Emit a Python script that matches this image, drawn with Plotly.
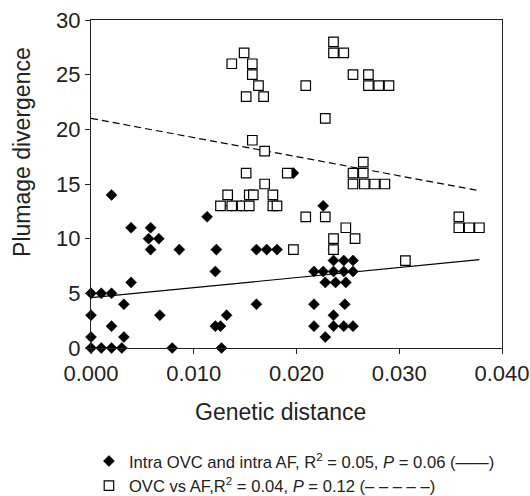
import plotly.graph_objects as go

# ---- data ----
intra_x = [0, 0, 0, 0, 0.001, 0.001, 0.002, 0.002, 0.002, 0.002, 0.003,
           0.0032, 0.0032, 0.0039, 0.0039, 0.0056, 0.0066, 0.0058, 0.0058,
           0.0067, 0.0086, 0.0079, 0.0113, 0.0122, 0.0121, 0.0121, 0.0126,
           0.0132, 0.0127, 0.0137, 0.0146,
           0.0161, 0.0171, 0.0181, 0.0161, 0.0197, 0.0226,
           0.0217, 0.0226, 0.0236, 0.0246, 0.0255,
           0.0236, 0.0246, 0.0255, 0.0236,
           0.0228, 0.0238, 0.0248,
           0.0217, 0.0247, 0.0236,
           0.0217, 0.0236, 0.0246, 0.0255, 0.0228]
intra_y = [5, 3, 1, 0, 5, 0, 5, 0, 2, 14, 0,
           4, 1, 6, 11, 10, 10, 11, 9,
           3, 9, 0, 12, 9, 7, 2, 2,
           3, 0, 13, 13,
           9, 9, 9, 4, 16, 13,
           7, 7, 7, 7, 7,
           8, 8, 8, 9,
           6, 6, 6,
           4, 4, 3,
           2, 2, 2, 2, 1]

between_x = [0.0149, 0.0137, 0.0157, 0.0157, 0.0163, 0.0151, 0.0168,
             0.0209, 0.0228, 0.0236, 0.0236, 0.0246,
             0.0255, 0.0270, 0.0270, 0.0280, 0.0290,
             0.0157, 0.0169, 0.0151, 0.0191,
             0.0265, 0.0255, 0.0265,
             0.0255, 0.0266, 0.0276, 0.0286, 0.0169,
             0.0133, 0.0154, 0.0158, 0.0177,
             0.0126, 0.0137, 0.0147, 0.0154, 0.0177, 0.0181,
             0.0209, 0.0228, 0.0248, 0.0236, 0.0257, 0.0236, 0.0197,
             0.0306, 0.0358, 0.0358, 0.0368, 0.0378]
between_y = [27, 26, 26, 25, 24, 23, 23,
             24, 21, 28, 27, 27,
             25, 25, 24, 24, 24,
             19, 18, 16, 16,
             17, 16, 16,
             15, 15, 15, 15, 15,
             14, 14, 14, 14,
             13, 13, 13, 13, 13, 13,
             12, 12, 11, 10, 10, 9, 9,
             8, 12, 11, 11, 11]

# regression lines (intercept, slope)
fit_x = [0.0, 0.0378]
intra_fit = (4.6, 92.0)
between_fit = (21.0, -175.0)

x_ticks = [0.0, 0.01, 0.02, 0.03, 0.04]
y_ticks = [0, 5, 10, 15, 20, 25, 30]

FONT = "Liberation Sans, Arial, sans-serif"

fig = go.Figure()

fig.add_trace(go.Scatter(
    x=fit_x, y=[intra_fit[0] + intra_fit[1] * v for v in fit_x],
    mode="lines", line=dict(color="black", width=1.2),
    showlegend=False, hoverinfo="skip"))
fig.add_trace(go.Scatter(
    x=fit_x, y=[between_fit[0] + between_fit[1] * v for v in fit_x],
    mode="lines", line=dict(color="black", width=1.2, dash="7px,4px"),
    showlegend=False, hoverinfo="skip"))

fig.add_trace(go.Scatter(
    x=intra_x, y=intra_y, mode="markers", cliponaxis=False,
    marker=dict(symbol="diamond", size=8.5, color="black",
                line=dict(color="black", width=0.5)),
    name="Intra OVC and intra AF, R<sup>2</sup> = 0.05, <i>P</i> = 0.06 (\u2014\u2014)",
    legendgroup="a"))
fig.add_trace(go.Scatter(
    x=between_x, y=between_y, mode="markers", cliponaxis=False,
    marker=dict(symbol="square", size=9.5, color="white",
                line=dict(color="black", width=1.2)),
    name="OVC vs AF,R<sup>2</sup> = 0.04, <i>P</i> = 0.12 (\u2013 \u2013 \u2013 \u2013 \u2013)",
    legendgroup="b"))

axis_common = dict(
    showline=True, linecolor="#222", linewidth=1.2, mirror=True,
    ticks="outside", ticklen=5, tickcolor="#222", tickwidth=1.2,
    showgrid=False, zeroline=False, automargin=False,
    tickfont=dict(family=FONT, size=22, color="#222"),
)

fig.update_layout(
    width=530, height=496,
    margin=dict(l=91, r=28, t=20, b=148, autoexpand=False),
    paper_bgcolor="white", plot_bgcolor="white",
    font=dict(family=FONT, color="#222"),
    xaxis=dict(range=[0, 0.04], tickvals=x_ticks, tickformat=".3f", **axis_common),
    yaxis=dict(range=[0, 30], tickvals=y_ticks, **axis_common),
    showlegend=True,
    legend=dict(x=-0.005, y=-0.292, xanchor="left", yanchor="top",
                font=dict(family=FONT, size=16.6, color="#222"),
                bgcolor="rgba(0,0,0,0)", tracegroupgap=0),
    annotations=[
        dict(text="Genetic distance", xref="paper", yref="paper",
             x=(280 - 91) / 410.7, y=(348 - 412) / 328, xanchor="center", yanchor="middle",
             showarrow=False, font=dict(family=FONT, size=23, color="#222")),
        dict(text="Plumage divergence", xref="paper", yref="paper",
             x=(22 - 91) / 410.7, y=(348 - 152) / 328, xanchor="center", yanchor="middle",
             textangle=-90, showarrow=False, font=dict(family=FONT, size=23, color="#222")),
    ],
)

fig.write_html("out.html",
               config={"displayModeBar": False},
               post_script="document.body.style.margin='0';document.body.style.overflow='hidden';")
